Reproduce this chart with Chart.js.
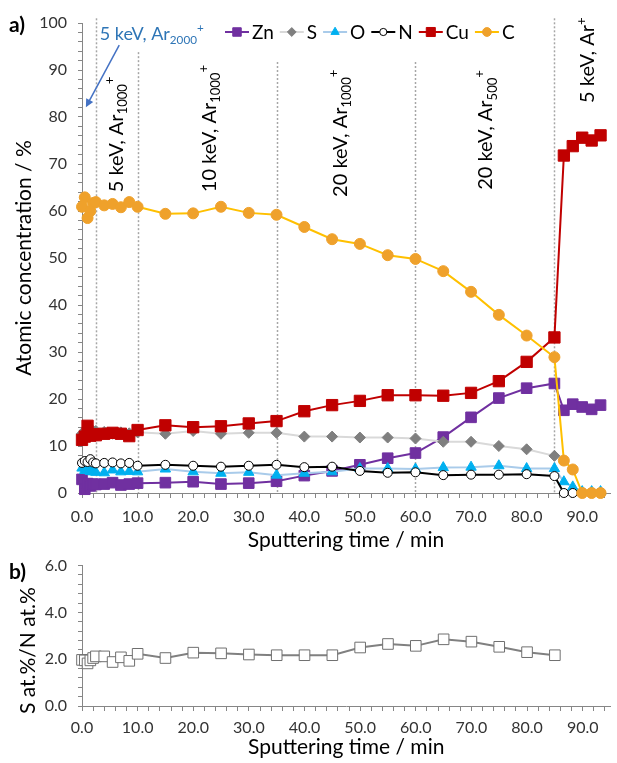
<!DOCTYPE html>
<html>
<head>
<meta charset="utf-8">
<script src="https://cdn.jsdelivr.net/npm/chart.js@4.4.1/dist/chart.umd.min.js"></script>
<style>
  html, body { margin: 0; padding: 0; background: #fff; overflow: hidden; }
  #wrap { position: relative; width: 617px; height: 763px; overflow: hidden; }
  #depth { position: absolute; left: 0; top: 0; }
  #ratio { position: absolute; left: 0; top: 545px; }
</style>
</head>
<body>
<div id="wrap">
  <canvas id="depth" width="619" height="556"></canvas>
  <canvas id="ratio" width="619" height="218"></canvas>
</div>
<script>
// sputtering time (min) of each XPS acquisition
const time = [0, 0.5, 1, 1.5, 2, 2.5, 4, 5.5, 7, 8.5, 10, 15, 20, 25, 30, 35, 40, 45, 50, 55, 60,
              65, 70, 75, 80, 85, 86.7, 88.3, 90, 91.7, 93.3];

// atomic concentrations, at.%
const zn = [2.9, 0.8, 2.0, 1.5, 1.9, 1.8, 1.9, 2.2, 1.7, 1.9, 2.1, 2.2, 2.4, 1.9, 2.1, 2.5, 3.7, 4.7, 6.0, 7.4, 8.5,
            11.9, 16.1, 20.2, 22.3, 23.3, 17.6, 18.9, 18.3, 17.8, 18.7];
const s  = [12.6, 13.3, 12.3, 13.5, 13.2, 13.2, 13.0, 12.6, 12.9, 12.7, 12.9, 12.6, 13.2, 12.6, 12.8, 12.8, 12.0, 12.0, 11.8, 11.8, 11.6,
            10.9, 10.9, 10.0, 9.3, 7.9, null, null, null, null, null];
const o  = [5.3, 4.8, 5.0, 4.6, 4.5, 4.4, 4.3, 4.9, 4.5, 4.6, 4.5, 5.1, 4.5, 4.2, 4.4, 3.8, 4.2, 4.5, 5.2, 5.2, 5.1,
            5.4, 5.5, 5.8, 5.2, 5.2, 2.4, 1.3, 0.3, 0.3, 0.3];
const n  = [6.4, 6.8, 6.6, 7.2, 6.5, 6.3, 6.4, 6.5, 6.3, 6.4, 5.8, 6.0, 5.8, 5.6, 5.8, 6.0, 5.5, 5.6, 4.7, 4.3, 4.4,
            3.8, 3.9, 3.9, 4.0, 3.6, 0, 0, 0, 0, 0];
const cu = [11.3, 12.0, 14.3, 12.2, 12.5, 12.3, 12.6, 12.8, 12.6, 12.1, 13.4, 14.4, 14.0, 14.2, 14.8, 15.3, 17.4, 18.7, 19.6, 20.8, 20.8,
            20.7, 21.3, 23.8, 27.9, 33.1, 71.8, 73.8, 75.6, 75.0, 76.1];
const c  = [60.9, 62.9, 58.5, 60.0, 61.7, 61.9, 61.2, 61.5, 60.8, 61.9, 60.9, 59.4, 59.5, 60.9, 59.6, 59.2, 56.6, 54.0, 53.0, 50.6, 49.8,
            47.2, 42.8, 37.9, 33.5, 28.9, 6.9, 5.0, 0, 0, 0];

// S/N ratio, only defined while N is present (up to 85 min)
const ratio = [1.97, 1.95, 1.82, 1.95, 2.05, 2.12, 2.12, 1.88, 2.08, 1.93, 2.23, 2.05, 2.28, 2.25, 2.20, 2.17, 2.17, 2.17, 2.50, 2.65, 2.57,
               2.85, 2.75, 2.53, 2.30, 2.17];

// ends of the sputtering steps
const phaseEdges = [2.5, 10, 35, 60, 85];

// layout of the drawn notes (data units)
const phaseTops = [101, 93.8, 91.7, 91.7, 101];
const beamLabels = [
  { t: 7.3,  v: 64.0, parts: [['5 keV, Ar'], ['1000', 'sub'], ['+', 'sup']] },
  { t: 24.1, v: 64.0, parts: [['10 keV, Ar'], ['1000', 'sub'], ['+', 'sup']] },
  { t: 47.6, v: 63.0, parts: [['20 keV, Ar'], ['1000', 'sub'], ['+', 'sup']] },
  { t: 73.8, v: 64.5, parts: [['20 keV, Ar'], ['500', 'sub'], ['+', 'sup']] },
  { t: 92.2, v: 83.0, parts: [['5 keV, Ar'], ['+', 'sup']] }
];
const firstBeam = { t: 3.2, v: 96.4, parts: [['5 keV, Ar'], ['2000', 'sub'], ['+', 'sup']] };
const firstArrow = { from: [6.7, 95.3], to: [0.7, 82.1] };

const FONT = 'Lato, "Open Sans", sans-serif';
const AXIS = '#868686';
Chart.defaults.font.family = FONT;
Chart.defaults.color = '#262626';

function pts(arr) {
  return arr.map((v, i) => ({ x: time[i], y: v }));
}

// text with sub/superscripts, optionally turned to read bottom-up
function richText(ctx, x, y, parts, size, color, rotated) {
  ctx.save();
  ctx.translate(x, y);
  if (rotated) ctx.rotate(-Math.PI / 2);
  ctx.fillStyle = color;
  ctx.textAlign = 'left';
  ctx.textBaseline = 'alphabetic';
  let cx = 0;
  parts.forEach(([txt, kind]) => {
    const fs = kind ? size * 0.65 : size;
    ctx.font = fs + 'px ' + FONT;
    const dy = kind === 'sub' ? size * 0.22 : kind === 'sup' ? -size * 0.42 : 0;
    ctx.fillText(txt, cx, dy);
    cx += ctx.measureText(txt).width;
  });
  ctx.restore();
}

function timeAxis(labelPad, titlePad, height) {
  return {
    type: 'linear', min: 0, max: 95,
    border: { color: AXIS, width: 1 },
    grid: { drawOnChartArea: false, color: AXIS, tickLength: 5 },
    ticks: {
      stepSize: 2, autoSkip: false, maxRotation: 0, includeBounds: false,
      padding: labelPad, font: { size: 16 }, color: '#333',
      callback: v => (v % 10 === 0 ? v.toFixed(1) : '')
    },
    title: { display: true, text: 'Sputtering time / min', font: { size: 21 }, color: '#000',
             padding: { top: 0, bottom: titlePad } },
    afterFit: sc => { sc.height = height; }
  };
}

const depthNotes = {
  id: 'depthNotes',
  beforeDatasetsDraw(chart) {
    const { ctx, chartArea, scales: { x, y } } = chart;
    ctx.save();
    ctx.strokeStyle = '#a6a6a6';
    ctx.lineWidth = 1.5;
    ctx.setLineDash([2, 2]);
    phaseEdges.forEach((t, i) => {
      const px = Math.round(x.getPixelForValue(t)) + 0.5;
      ctx.beginPath();
      ctx.moveTo(px, y.getPixelForValue(phaseTops[i]));
      ctx.lineTo(px, chartArea.bottom);
      ctx.stroke();
    });
    ctx.restore();
  },
  afterDraw(chart) {
    const { ctx, scales: { x, y } } = chart;

    beamLabels.forEach(b => {
      richText(ctx, x.getPixelForValue(b.t), y.getPixelForValue(b.v), b.parts, 20, '#000', true);
    });
    richText(ctx, x.getPixelForValue(firstBeam.t), y.getPixelForValue(firstBeam.v), firstBeam.parts, 18, '#2e75b6', false);

    // arrow to the first step
    const x1 = x.getPixelForValue(firstArrow.from[0]), y1 = y.getPixelForValue(firstArrow.from[1]);
    const x2 = x.getPixelForValue(firstArrow.to[0]), y2 = y.getPixelForValue(firstArrow.to[1]);
    const ang = Math.atan2(y2 - y1, x2 - x1);
    ctx.save();
    ctx.strokeStyle = ctx.fillStyle = '#4472c4';
    ctx.lineWidth = 1.5;
    ctx.beginPath();
    ctx.moveTo(x1, y1);
    ctx.lineTo(x2 - 6 * Math.cos(ang), y2 - 6 * Math.sin(ang));
    ctx.stroke();
    ctx.beginPath();
    ctx.moveTo(x2, y2);
    ctx.lineTo(x2 - 8 * Math.cos(ang) + 4 * Math.sin(ang), y2 - 8 * Math.sin(ang) - 4 * Math.cos(ang));
    ctx.lineTo(x2 - 8 * Math.cos(ang) - 4 * Math.sin(ang), y2 - 8 * Math.sin(ang) + 4 * Math.cos(ang));
    ctx.closePath();
    ctx.fill();
    ctx.restore();

    // legend: line + marker + name, in series order
    ctx.save();
    ctx.font = '19px ' + FONT;
    ctx.textBaseline = 'middle';
    let lx = 225;
    const ly = 32;
    chart.data.datasets.forEach(ds => {
      ctx.strokeStyle = ds.borderColor;
      ctx.lineWidth = 2;
      ctx.beginPath();
      ctx.moveTo(lx, ly);
      ctx.lineTo(lx + 24, ly);
      ctx.stroke();
      ctx.fillStyle = ds.pointBackgroundColor;
      ctx.strokeStyle = ds.pointBorderColor;
      ctx.lineWidth = 1;
      Chart.helpers.drawPoint(ctx, { pointStyle: ds.pointStyle, radius: ds.pointRadius * 0.8, rotation: 0, borderWidth: 1 }, lx + 12, ly);
      ctx.fillStyle = '#000';
      ctx.fillText(ds.label, lx + 27, ly + 1);
      lx += 27 + ctx.measureText(ds.label).width + 6;
    });
    ctx.font = 'bold 21px ' + FONT;
    ctx.fillText('a)', 9, 25);
    ctx.restore();
  }
};

function series(label, data, line, marker, style, radius, order, fill) {
  return {
    label, data: pts(data), order,
    borderColor: line, borderWidth: 2,
    pointStyle: style, pointRadius: radius,
    pointBackgroundColor: fill || marker, pointBorderColor: marker, pointBorderWidth: 1,
    tension: 0, clip: false, spanGaps: false
  };
}

new Chart(document.getElementById('depth'), {
  type: 'line',
  data: {
    datasets: [
      series('Zn', zn, '#7030a0', '#7030a0', 'rect', 7.5, 6),
      series('S',  s,  '#d9d9d9', '#7f7f7f', 'rectRot', 5.5, 5),
      series('O',  o,  '#a9cbea', '#00b0f0', 'triangle', 6, 4),
      series('N',  n,  '#000000', '#000000', 'circle', 4.5, 3, '#ffffff'),
      series('Cu', cu, '#c00000', '#c00000', 'rect', 8, 2),
      series('C',  c,  '#ffc000', '#efa12b', 'circle', 5.5, 1)
    ]
  },
  options: {
    responsive: false, animation: false, devicePixelRatio: 1,
    layout: { padding: { top: 23, right: 0, bottom: 0, left: 0 } },
    plugins: { legend: { display: false }, tooltip: { enabled: false } },
    scales: {
      x: timeAxis(9, 3, 63),
      y: {
        min: 0, max: 100,
        border: { color: AXIS, width: 1 },
        grid: { drawOnChartArea: false, color: AXIS, tickLength: 4 },
        ticks: { stepSize: 2, autoSkip: false, padding: 11, font: { size: 16 }, color: '#333',
                 callback: v => (v % 10 === 0 ? String(v) : '') },
        title: { display: true, text: 'Atomic concentration / %', font: { size: 21 }, color: '#000',
                 padding: { top: 12, bottom: 0 } },
        afterFit: sc => { sc.width = 82; }
      }
    }
  },
  plugins: [depthNotes]
});

const ratioNotes = {
  id: 'ratioNotes',
  afterDraw(chart) {
    const { ctx, chartArea } = chart;
    ctx.save();
    ctx.fillStyle = '#000';
    ctx.font = '21px ' + FONT;
    ctx.textAlign = 'center';
    ctx.textBaseline = 'middle';
    ctx.translate(28, chartArea.top + 85);
    ctx.rotate(-Math.PI / 2);
    ctx.fillText('S at.%/N at.%', 0, 0);
    ctx.restore();
    ctx.save();
    ctx.fillStyle = '#000';
    ctx.font = 'bold 21px ' + FONT;
    ctx.textBaseline = 'middle';
    ctx.fillText('b)', 9, 27);
    ctx.restore();
  }
};

new Chart(document.getElementById('ratio'), {
  type: 'line',
  data: {
    datasets: [{
      label: 'S/N', data: pts(ratio),
      borderColor: '#808080', borderWidth: 2,
      pointStyle: 'rect', pointRadius: 7.5,
      pointBackgroundColor: '#ffffff', pointBorderColor: '#6f6f6f', pointBorderWidth: 1,
      tension: 0, clip: false
    }]
  },
  options: {
    responsive: false, animation: false, devicePixelRatio: 1,
    layout: { padding: { top: 16, right: 0, bottom: 0, left: 0 } },
    plugins: { legend: { display: false }, tooltip: { enabled: false } },
    scales: {
      x: timeAxis(7, 3, 57),
      y: {
        min: 0, max: 6,
        border: { color: AXIS, width: 1 },
        grid: { drawOnChartArea: false, color: AXIS, tickLength: 4 },
        ticks: { stepSize: 0.4, autoSkip: false, padding: 11, font: { size: 16 }, color: '#333',
                 callback: v => (Math.abs(v / 2 - Math.round(v / 2)) < 1e-6 ? v.toFixed(1) : '') },
        title: { display: false },
        afterFit: sc => { sc.width = 82; }
      }
    }
  },
  plugins: [ratioNotes]
});
</script>
</body>
</html>
